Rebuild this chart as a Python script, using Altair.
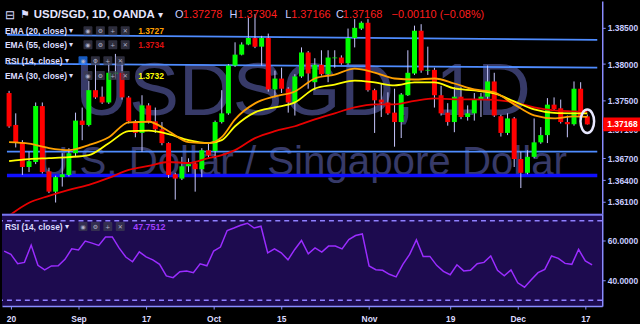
import altair as alt
import pandas as pd

# ---------------- data ----------------
idx = list(range(88))
opens = [1.3760,1.3716,1.3692,1.3658,1.3665,1.3742,1.3652,1.3624,1.3644,1.3647,
         1.3677,1.3722,1.3716,1.3764,1.3755,1.3747,1.3787,1.3788,1.3754,1.3721,
         1.3705,1.3743,1.3721,1.3710,1.3691,1.3648,1.3642,1.3659,1.3663,1.3655,
         1.3681,1.3680,1.3720,1.3732,1.3798,1.3813,1.3827,1.3836,1.3824,1.3836,
         1.3765,1.3780,1.3766,1.3747,1.3783,1.3816,1.3775,1.3799,1.3786,1.3808,
         1.3809,1.3801,1.3836,1.3849,1.3857,1.3764,1.3751,1.3747,1.3733,1.3720,
         1.3757,1.3787,1.3846,1.3791,1.3792,1.3757,1.3733,1.3720,1.3755,1.3727,
         1.3732,1.3751,1.3755,1.3776,1.3728,1.3705,1.3725,1.3669,1.3650,1.3672,
         1.3692,1.3702,1.3744,1.3739,1.3720,1.3717,1.3766,1.37278]
highs = [1.3763,1.3732,1.3695,1.3679,1.3747,1.3747,1.3657,1.3646,1.3677,1.3684,
         1.3733,1.3740,1.3777,1.3807,1.3769,1.3802,1.3814,1.3805,1.3756,1.3723,
         1.3757,1.3746,1.3740,1.3720,1.3692,1.3650,1.3672,1.3670,1.3666,1.3684,
         1.3691,1.3722,1.3764,1.3800,1.3830,1.3830,1.3864,1.3869,1.3839,1.3842,
         1.3791,1.3795,1.3768,1.3786,1.3823,1.3818,1.3808,1.3819,1.3819,1.3819,
         1.3812,1.3849,1.3862,1.3859,1.3862,1.3766,1.3773,1.3761,1.3766,1.3760,
         1.3819,1.3853,1.3855,1.3824,1.3795,1.3770,1.3746,1.3768,1.3768,1.3743,
         1.3760,1.3760,1.3798,1.3788,1.3730,1.3732,1.3727,1.3679,1.3681,1.3725,
         1.3713,1.3753,1.3754,1.3751,1.3729,1.3776,1.3775,1.37304]
lows = [1.3712,1.3685,1.3647,1.3651,1.3662,1.3649,1.3622,1.3609,1.3631,1.3645,
        1.3673,1.3695,1.3714,1.3752,1.3745,1.3745,1.3780,1.3751,1.3718,1.3699,
        1.3679,1.3718,1.3705,1.3688,1.3643,1.3613,1.3640,1.3651,1.3624,1.3644,
        1.3671,1.3670,1.3718,1.3730,1.3796,1.3812,1.3826,1.3822,1.3798,1.3762,
        1.3754,1.3760,1.3733,1.3729,1.3781,1.3766,1.3764,1.3784,1.3775,1.3795,
        1.3799,1.3799,1.3823,1.3847,1.3762,1.3705,1.3727,1.3730,1.3686,1.3698,
        1.3756,1.3785,1.3788,1.3785,1.3740,1.3729,1.3715,1.3706,1.3724,1.3722,
        1.3722,1.3727,1.3752,1.3727,1.3700,1.3702,1.3658,1.3629,1.3648,1.3670,
        1.3690,1.3691,1.3736,1.3718,1.3699,1.3715,1.3726,1.37166]
closes = [1.3714,1.3692,1.3658,1.3666,1.3742,1.3651,1.3624,1.3644,1.3648,1.3677,
          1.3722,1.3716,1.3764,1.3754,1.3747,1.3788,1.3788,1.3754,1.3721,1.3705,
          1.3743,1.3721,1.3710,1.3691,1.3647,1.3642,1.3659,1.3662,1.3655,1.3681,
          1.3674,1.3720,1.3732,1.3798,1.3813,1.3827,1.3836,1.3824,1.3836,1.3765,
          1.3780,1.3766,1.3747,1.3783,1.3816,1.3787,1.3799,1.3786,1.3809,1.3809,
          1.3801,1.3836,1.3850,1.3857,1.3764,1.3750,1.3747,1.3732,1.3720,1.3758,
          1.3788,1.3846,1.3791,1.3792,1.3757,1.3732,1.3720,1.3755,1.3727,1.3732,
          1.3751,1.3755,1.3776,1.3729,1.3705,1.3725,1.3669,1.3650,1.3672,1.3692,
          1.3702,1.3744,1.3738,1.3720,1.3717,1.3766,1.3728,1.37168]
rsi = [54.7,53.0,48.3,49.0,57.7,47.5,45.2,47.2,47.3,50.5,
       55.8,55.2,59.7,58.7,57.5,61.8,61.8,56.3,51.7,49.3,
       54.3,51.8,50.3,48.0,42.2,41.3,44.3,44.7,43.8,48.3,
       47.3,54.7,56.7,65.0,66.3,67.7,68.7,66.3,67.2,53.8,
       55.8,53.8,50.3,55.5,60.0,53.3,56.3,54.2,57.2,57.2,
       55.8,60.5,62.5,63.3,47.2,45.3,45.0,43.0,41.7,48.0,
       53.0,60.3,52.0,52.0,47.5,44.5,42.8,47.8,44.7,45.0,
       48.3,49.0,52.2,45.0,42.2,45.2,38.7,36.5,40.2,43.8,
       45.5,52.2,51.0,48.5,48.0,55.5,49.7,47.75]

ema_idx = [0,3,6,9,12,15,18,21,24,27,30,32,34,37,40,43,46,49,52,55,58,61,64,67,70,73,76,79,82,85,87]
ema20 = [1.36923,1.36902,1.36841,1.36813,1.36882,1.36991,1.37197,1.37204,1.37074,1.36923,
         1.36909,1.36991,1.37238,1.37458,1.37554,1.37622,1.37801,1.37855,1.37938,1.37883,
         1.37801,1.37787,1.37801,1.37732,1.37650,1.37609,1.37444,1.37293,1.37252,1.37279,1.3727]
ema30 = [1.36662,1.36690,1.36703,1.36717,1.36745,1.36909,1.37074,1.37081,1.37033,1.36950,
         1.36909,1.36950,1.37142,1.37334,1.37403,1.37471,1.37663,1.37718,1.37773,1.37746,
         1.37705,1.37746,1.37746,1.37663,1.37636,1.37595,1.37485,1.37375,1.37327,1.37321,1.3732]
ema55 = [1.35908,1.36086,1.36182,1.36265,1.36333,1.36429,1.36539,1.36594,1.36649,1.36635,
         1.36703,1.36745,1.36813,1.36978,1.37074,1.37142,1.37238,1.37321,1.37403,1.37444,
         1.37444,1.37492,1.37526,1.37513,1.37513,1.37506,1.37471,1.37403,1.37362,1.37348,1.3734]

line_ends = [-0.32, 88.5]
trend_upper = [1.38404, 1.38335]
trend_lower = [1.38006, 1.37951]
support_light = [1.36793, 1.36793]
support_blue = [1.36464, 1.36464]

tick_idx = [1, 11, 21, 31, 41, 54, 66, 76, 86]
tick_lab = ['20', 'Sep', '17', 'Oct', '15', 'Nov', '19', 'Dec', '17']
price_ticks = [1.385, 1.380, 1.375, 1.371, 1.367, 1.364, 1.361]
rsi_ticks = [40, 60]
last_close = 1.37168
marker_price = 1.3721

# ---------------- styling ----------------
FONT = 'Liberation Sans'
UP, DOWN, WICK = '#00ff00', '#ff0000', '#c8c8ff'
AXIS_C = '#8a8cff'
LABEL_C = '#c8ccff'
TXT_C = '#dcdcff'
W, H_TOP, H_RSI = 604, 214, 93

xscale = alt.Scale(domain=[-0.32, 88.5], nice=False, zero=False)
pscale = alt.Scale(domain=[1.35936, 1.38870], nice=False, zero=False)
rscale = alt.Scale(domain=[27, 73.5], nice=False, zero=False)

paxis = alt.Axis(orient='right', values=price_ticks, format='.5f', title=None, grid=False,
                 labelColor=LABEL_C, labelFont=FONT, labelFontSize=8.5, labelFontWeight='bold',
                 tickColor=AXIS_C, tickSize=3, domainColor=AXIS_C, domainWidth=1.5,
                 labelPadding=2, labelOverlap=False)
raxis = alt.Axis(orient='right', values=rsi_ticks, format='.4f', title=None, grid=False,
                 labelColor=LABEL_C, labelFont=FONT, labelFontSize=8.5, labelFontWeight='bold',
                 tickColor=AXIS_C, tickSize=3, domainColor=AXIS_C, domainWidth=1.5,
                 labelPadding=2, labelOverlap=False)
expr = ' : '.join(f"datum.value == {i} ? '{l}'" for i, l in zip(tick_idx, tick_lab)) + " : ''"
xaxis = alt.Axis(values=tick_idx, labelExpr=expr, title=None, grid=False, labelFlush=False,
                 labelColor=TXT_C, labelFont=FONT, labelFontSize=8.5, labelFontWeight='bold',
                 tickColor=AXIS_C, tickSize=3, domainColor=AXIS_C, domainWidth=1.5,
                 labelPadding=5, labelOverlap=False)


def XP(f):
    return alt.X(f, type='quantitative', scale=xscale, axis=None)


def YP(f):
    return alt.Y(f, type='quantitative', scale=pscale, axis=paxis)


EMPTY = alt.Data(values=[{}])


def label(text, x, y, color, size=8.5, weight='bold', align='left'):
    return alt.Chart(EMPTY).mark_text(text=text, align=align, baseline='middle', fontSize=size,
                                      fontWeight=weight, color=color, font=FONT).encode(
        x=alt.value(x), y=alt.value(y))


def icon_box(x, y, fill, glyph, opacity=0.75):
    r = alt.Chart(EMPTY).mark_rect(color=fill, opacity=opacity, cornerRadius=1).encode(
        x=alt.value(x), x2=alt.value(x + 9), y=alt.value(y - 4.5), y2=alt.value(y + 4.5))
    g = alt.Chart(EMPTY).mark_text(text=glyph, align='center', baseline='middle', fontSize=6,
                                   color='#b0b0c8', font='DejaVu Sans').encode(
        x=alt.value(x + 4.5), y=alt.value(y + 0.5))
    return [r, g]


def icon_row(x0, y, first_fill='#3c3c50'):
    out = []
    for k, gl in enumerate(['◉', '⚙', '+', '✕']):
        out += icon_box(x0 + k * 12.5, y, first_fill if k == 0 else '#3c3c50', gl)
    return out


# ---------------- main pane ----------------
candles = pd.DataFrame({'i': idx, 'o': opens, 'h': highs, 'l': lows, 'c': closes})
candles['dir'] = ['up' if c >= o else 'down' for o, c in zip(opens, closes)]

WM_C = '#373a68'
wm1 = alt.Chart(EMPTY).mark_text(text='USDSGD, 1D', align='center', baseline='alphabetic',
                                 fontSize=75, color=WM_C, font=FONT).encode(
    x=alt.value(303), y=alt.value(115))
wm2 = alt.Chart(EMPTY).mark_text(text='U.S. Dollar / Singapore Dollar', align='center',
                                 baseline='alphabetic', fontSize=40.5, color=WM_C, font=FONT).encode(
    x=alt.value(303), y=alt.value(175))

lines_df = pd.DataFrame({
    'i': line_ends * 3,
    'v': trend_upper + trend_lower + support_light,
    'g': ['a', 'a', 'b', 'b', 'c', 'c'],
})
light_lines = alt.Chart(lines_df).mark_line(color='#4f8cff', strokeWidth=1.8).encode(
    x=XP('i'), y=YP('v'), detail='g:N')
blue_line = alt.Chart(pd.DataFrame({'i': line_ends, 'v': support_blue})).mark_line(
    color='#1010ff', strokeWidth=3.5).encode(x=XP('i'), y=YP('v'))

wicks = alt.Chart(candles).mark_rule(color=WICK, strokeWidth=1).encode(
    x=XP('i'), y=YP('l'), y2='h')
bodies = alt.Chart(candles).mark_bar(size=5).encode(
    x=XP('i'), y=YP('o'), y2='c',
    color=alt.Color('dir:N', scale=alt.Scale(domain=['up', 'down'], range=[UP, DOWN]), legend=None))


def ema_layer(vals, color):
    return alt.Chart(pd.DataFrame({'i': ema_idx, 'v': vals})).mark_line(
        color=color, strokeWidth=1.8, interpolate='monotone', clip=True).encode(x=XP('i'), y=YP('v'))


e55 = ema_layer(ema55, '#e80000')
e30 = ema_layer(ema30, '#ffff00')
e20 = ema_layer(ema20, '#ffa000')

ellipse = 'M -0.58 0 A 0.58 1 0 1 0 0.58 0 A 0.58 1 0 1 0 -0.58 0 Z'
marker = alt.Chart(pd.DataFrame({'i': [87], 'v': [marker_price]})).mark_point(
    shape=ellipse, size=560, filled=False, stroke='#e8e8ff', strokeWidth=2.5, opacity=1).encode(
    x=XP('i'), y=YP('v'))

half = 7 / (H_TOP / (1.38870 - 1.35936))
tag = alt.Chart(EMPTY).mark_rect(color='#ff0000').encode(
    x=alt.value(605), x2=alt.value(642),
    y=alt.Y(datum=last_close + half, scale=pscale, axis=paxis),
    y2=alt.datum(last_close - half))
tag_txt = alt.Chart(EMPTY).mark_text(text=f'{last_close:.5f}', align='left', baseline='middle',
                                     fontSize=8.5, fontWeight='bold', color='white', font=FONT).encode(
    x=alt.value(609), y=alt.Y(datum=last_close, scale=pscale, axis=paxis))

legend = [
    label('⊟', 3, 14, TXT_C, size=12, weight='normal'),
    label('⚑', 18, 14, TXT_C, size=11, weight='normal'),
    label('USD/SGD, 1D, OANDA', 32, 14, '#e6e6ff', size=11.5),
    label('▾', 157, 14, '#e6e6ff', size=10, weight='normal'),
    label('O', 174, 14, LABEL_C, size=11, weight='normal'),
    label('1.37278', 182, 14, '#ff1e1e', size=11, weight='normal'),
    label('H', 229, 14, LABEL_C, size=11, weight='normal'),
    label('1.37304', 237, 14, '#ff1e1e', size=11, weight='normal'),
    label('L', 285, 14, LABEL_C, size=11, weight='normal'),
    label('1.37166', 291, 14, '#ff1e1e', size=11, weight='normal'),
    label('C', 336, 14, LABEL_C, size=11, weight='normal'),
    label('1.37168', 343, 14, '#ff1e1e', size=11, weight='normal'),
    label('−0.00110 (−0.08%)', 392, 14, '#ff1e1e', size=11, weight='normal'),
    label('EMA (20, close)', 3, 30, TXT_C),
    label('▾', 67, 30, TXT_C, size=8, weight='normal'),
    label('1.3727', 137, 30, '#ffa000'),
    label('EMA (55, close)', 3, 44, TXT_C),
    label('▾', 67, 44, TXT_C, size=8, weight='normal'),
    label('1.3734', 137, 44, '#dd1010'),
    label('RSI (14, close)', 3, 60, TXT_C),
    label('▾', 63, 60, TXT_C, size=8, weight='normal'),
    label('EMA (30, close)', 3, 75, TXT_C),
    label('▾', 67, 75, TXT_C, size=8, weight='normal'),
    label('1.3732', 137, 75, '#ffff00'),
]
legend += icon_row(82, 30) + icon_row(82, 44) + icon_row(77, 60, first_fill='#1e78ff') + icon_row(82, 75)

top = alt.layer(wm1, wm2, light_lines, blue_line, wicks, bodies, e55, e30, e20, marker,
                tag, tag_txt, *legend).properties(width=W, height=H_TOP)

# ---------------- RSI pane ----------------
rsi_df = pd.DataFrame({'i': idx, 'r': rsi})
rsi_line = alt.Chart(rsi_df).mark_line(color='#9a2cff', strokeWidth=1.5, clip=True).encode(
    x=alt.X('i:Q', scale=xscale, axis=xaxis), y=alt.Y('r:Q', scale=rscale, axis=raxis))
band_lines = [alt.Chart(EMPTY).mark_rule(color='#8f80ff', strokeWidth=1.5, strokeDash=[5, 4]).encode(
    y=alt.Y(datum=v, scale=rscale, axis=raxis)) for v in (70, 30)]
sep = alt.Chart(EMPTY).mark_rule(color='#7878f0', strokeWidth=2).encode(
    x=alt.value(0), x2=alt.value(W), y=alt.value(1))
rsi_legend = [
    label('RSI (14, close)', 3, 13, TXT_C),
    label('▾', 63, 13, TXT_C, size=8, weight='normal'),
    label('47.7512', 132, 13, '#a040ff', size=9),
] + icon_row(77, 13)

bottom = alt.layer(*band_lines, rsi_line, sep, *rsi_legend).properties(
    width=W, height=H_RSI, view=alt.ViewBackground(fill='#1d0b4f', stroke=None))

chart = alt.vconcat(top, bottom, spacing=0).properties(
    padding=0, background='#000000'
).configure_view(stroke=None, fill='#000000').configure_axis(labelOverlap=False)

chart.save('out.html', embed_options={'renderer': 'svg', 'actions': False})
